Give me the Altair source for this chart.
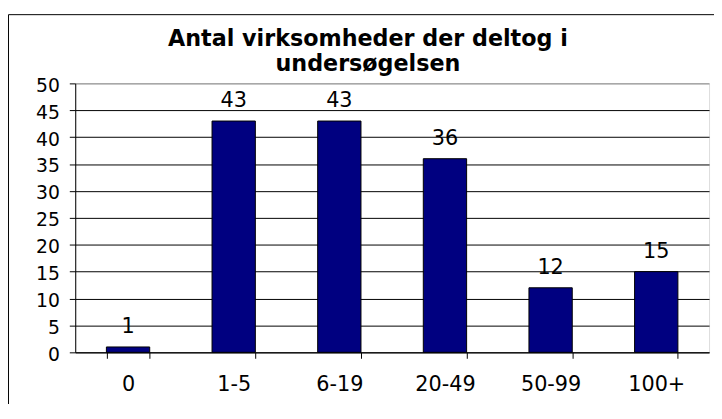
import altair as alt
import pandas as pd

categories = ["0", "1-5", "6-19", "20-49", "50-99", "100+"]
values = [1, 43, 43, 36, 12, 15]
y_ticks = [0, 5, 10, 15, 20, 25, 30, 35, 40, 45, 50]
title_lines = ["Antal virksomheder der deltog i", "undersøgelsen"]

df = pd.DataFrame({"cat": categories, "val": values})

FONT = "DejaVu Sans"

xenc = alt.X(
    "cat:N",
    sort=categories,
    title=None,
    scale=alt.Scale(paddingInner=0.59, paddingOuter=0.295),
    axis=alt.Axis(
        labelAngle=0,
        labelFont=FONT,
        labelFontSize=21,
        labelColor="black",
        labelPadding=16,
        tickBand="extent",
        tickSize=6,
        tickColor="black",
        domainColor="black",
        grid=False,
    ),
)
yenc = alt.Y(
    "val:Q",
    title=None,
    scale=alt.Scale(domain=[0, 50], nice=False),
    axis=alt.Axis(
        values=y_ticks,
        labelOverlap=False,
        labelFont=FONT,
        labelFontSize=19,
        labelColor="black",
        labelPadding=10,
        labelOffset=2,
        tickSize=6,
        tickColor="black",
        domainColor="black",
        grid=True,
        gridColor=alt.condition("datum.value === 50", alt.value("#808080"), alt.value("#000000")),
        gridOpacity=1,
        gridWidth=1,
    ),
)

base = alt.Chart(df).encode(x=xenc, y=yenc)

bars = base.mark_bar(color="#000080", stroke="black", strokeWidth=1)
labels = base.mark_text(
    font=FONT, fontSize=21, color="black", baseline="alphabetic", dy=-14
).encode(text="val:Q")

border = alt.Chart(alt.Data(values=[{}])).mark_rect(
    fill=None, stroke="black", strokeWidth=1
).encode(
    x=alt.value(-67.5), x2=alt.value(700), y=alt.value(-69.5), y2=alt.value(400)
)

title = alt.Chart(alt.Data(values=[{}])).mark_text(
    text=title_lines,
    font=FONT,
    fontSize=22.5,
    fontWeight="bold",
    color="black",
    align="center",
    baseline="alphabetic",
    lineHeight=25,
).encode(x=alt.value(296), y=alt.value(-38))

chart = alt.layer(border, bars, labels, title).properties(
    width=641,
    height=272,
    padding={"left": 68, "top": 74, "right": 5, "bottom": 50},
    autosize=alt.AutoSizeParams(type="none"),
).configure_view(stroke="#808080", strokeWidth=1).configure(background="white")

chart.save("out.html", embed_options={"renderer": "svg", "actions": False})
